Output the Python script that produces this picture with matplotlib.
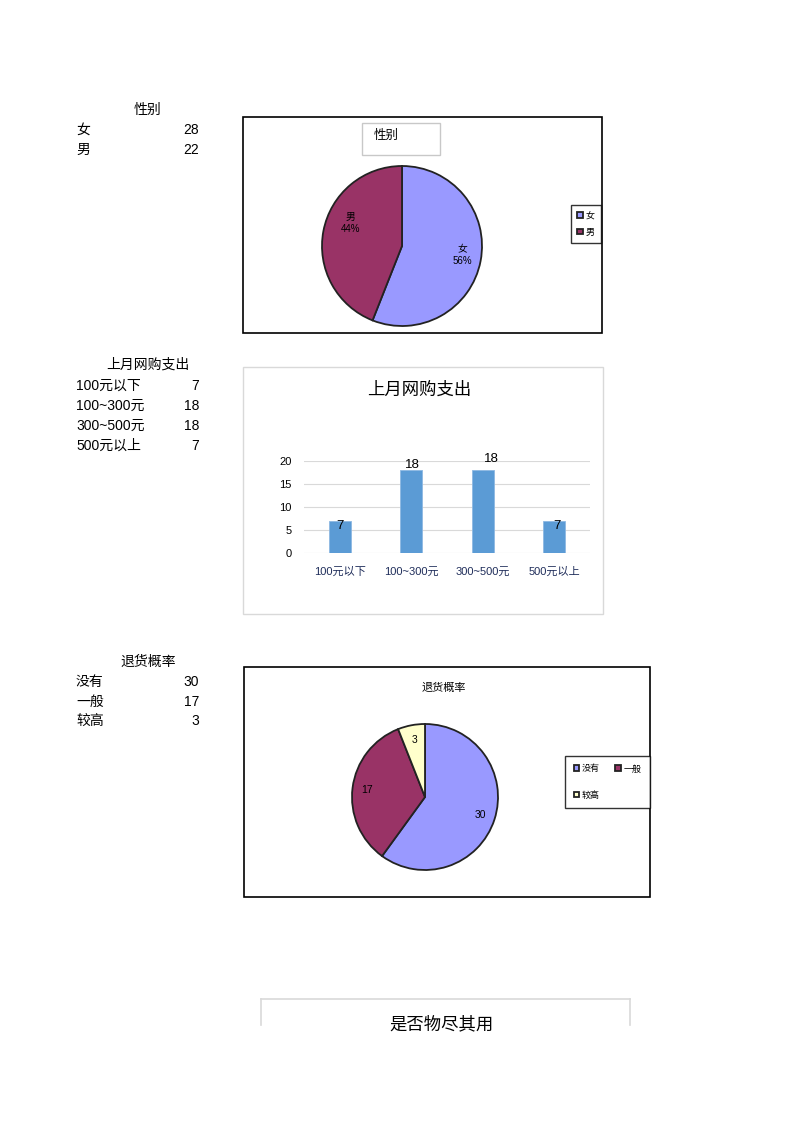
import matplotlib
matplotlib.use("Agg")
import matplotlib.pyplot as plt
from matplotlib.patches import Rectangle
from matplotlib.lines import Line2D

plt.rcParams['font.family'] = ['Liberation Sans', 'Noto Sans CJK SC', 'DejaVu Sans']

# data
gender_title = "性别"
gender_labels = ["女", "男"]
gender_values = [28, 22]

spend_title = "上月网购支出"
spend_labels = ["100元以下", "100~300元", "300~500元", "500元以上"]
spend_values = [7, 18, 18, 7]
spend_ticks = [0, 5, 10, 15, 20]

return_title = "退货概率"
return_labels = ["没有", "一般", "较高"]
return_values = [30, 17, 3]

last_title = "是否物尽其用"

W, H = 800, 1132
fig = plt.figure(figsize=(W / 100, H / 100), dpi=100)


def fx(x):
    return x / W


def fy(y):
    return 1 - y / H


def px_axes(x0, y0, x1, y1):
    # axes from pixel box (top-left origin)
    return fig.add_axes([fx(x0), fy(y1), (x1 - x0) / W, (y1 - y0) / H])


def box(x0, y0, x1, y1, color="black", lw=1.2):
    fig.add_artist(Rectangle((fx(x0), fy(y1)), (x1 - x0) / W, (y1 - y0) / H,
                             transform=fig.transFigure, fill=False,
                             edgecolor=color, linewidth=lw))


def table(title, labels, values, y_title, y_first, step=20):
    fig.text(fx(148), fy(y_title), title, ha="center", va="center", fontsize=10)
    for i, (lab, val) in enumerate(zip(labels, values)):
        y = fy(y_first + i * step)
        fig.text(fx(76), y, lab, ha="left", va="center", fontsize=10)
        fig.text(fx(199), y, str(val), ha="right", va="center", fontsize=10)


# ---- gender ----
table(gender_title, gender_labels, gender_values, 110, 130)
box(243, 117, 602, 333)
box(362, 123, 440, 155, color="#c8c8c8", lw=1)
fig.text(fx(386), fy(136), gender_title, ha="center", va="center", fontsize=9)

pie_colors = ["#9999FF", "#993366", "#FFFFCC"]
ax1 = px_axes(322, 166, 482, 326)
tot1 = sum(gender_values)
wedges1, _, autot1 = ax1.pie(
    gender_values, colors=pie_colors[:2], startangle=90, counterclock=False,
    autopct=lambda p: "", pctdistance=0.74,
    wedgeprops=dict(edgecolor="#222222", linewidth=1.3))
label_pos1 = [(0.75, -0.11), (-0.64, 0.29)]
for t, lab, v, pos in zip(autot1, gender_labels, gender_values, label_pos1):
    t.set_text(f"{lab}\n{round(v / tot1 * 100)}%")
    t.set_fontsize(7)
    t.set_linespacing(1.25)
    t.set_position(pos)
ax1.set_xlim(-1, 1)
ax1.set_ylim(-1, 1)
ax1.axis("off")

fig.legend(wedges1, gender_labels, loc="center", bbox_to_anchor=(fx(586), fy(224)),
           fontsize=6.5, frameon=True, fancybox=False, edgecolor="black",
           handlelength=0.6, handleheight=0.6, handletextpad=0.3,
           borderpad=0.75, labelspacing=0.8, borderaxespad=0)

# ---- spending ----
table(spend_title, spend_labels, spend_values, 365, 386)
box(243, 367, 603, 614, color="#d9d9d9", lw=1)
fig.text(fx(419), fy(390), spend_title, ha="center", va="center", fontsize=12.5)

ax2 = px_axes(304, 461, 590, 553)
xs = range(len(spend_values))
bars = ax2.bar(xs, spend_values, width=0.31, color="#5B9BD5",
               edgecolor="#8DB8E3", linewidth=0.6, zorder=3)
ax2.set_xlim(-0.5, len(spend_values) - 0.5)
ax2.set_ylim(0, 20)
ax2.set_yticks(spend_ticks)
ax2.set_xticks(list(xs))
ax2.set_xticklabels(spend_labels, fontsize=8, color="#1F2D5A")
ax2.tick_params(axis="y", labelsize=8, length=0, pad=9)
ax2.tick_params(axis="x", length=0, pad=10)
ax2.grid(axis="y", color="#d9d9d9", linewidth=0.8, zorder=0)
for s in ax2.spines.values():
    s.set_visible(False)
label_offsets = [(0, -4), (1, 4), (6, 8), (2, -4)]
for b, v, (dx, dy) in zip(bars, spend_values, label_offsets):
    ax2.annotate(str(v), (b.get_x() + b.get_width() / 2, v), xytext=(dx, dy),
                 textcoords="offset points", ha="center", va="center",
                 fontsize=9.5, zorder=4)

# ---- returns ----
table(return_title, return_labels, return_values, 662, 682, step=19.5)
box(244, 667, 650, 897)
fig.text(fx(444), fy(688), return_title, ha="center", va="center", fontsize=8)

ax3 = px_axes(352, 724, 498, 870)
tot3 = sum(return_values)
wedges3, _, autot3 = ax3.pie(
    return_values, colors=pie_colors, startangle=90, counterclock=False,
    autopct=lambda p: f"{round(p * tot3 / 100)}", pctdistance=0.8,
    wedgeprops=dict(edgecolor="#222222", linewidth=1.3))
for t in autot3:
    t.set_fontsize(7.5)
ax3.set_xlim(-1, 1)
ax3.set_ylim(-1, 1)
ax3.axis("off")

order = [0, 2, 1]
fig.legend([wedges3[i] for i in order], [return_labels[i] for i in order],
           ncol=2, loc="center", bbox_to_anchor=(fx(607.5), fy(782)),
           fontsize=6.5, frameon=True, fancybox=False, edgecolor="black",
           handlelength=0.6, handleheight=0.6, handletextpad=0.3,
           columnspacing=1.7, borderpad=0.95, labelspacing=1.9, borderaxespad=0)

# ---- last chart (cut off) ----
gray = "#d9d9d9"
fig.add_artist(Line2D([fx(261), fx(630)], [fy(999), fy(999)],
                      transform=fig.transFigure, color=gray, linewidth=1.2))
for x in (261, 630):
    fig.add_artist(Line2D([fx(x), fx(x)], [fy(999), fy(1025)],
                          transform=fig.transFigure, color=gray, linewidth=1.2))
fig.text(fx(442), fy(1024), last_title, ha="center", va="center", fontsize=12.5)

fig.savefig("out.png", dpi=100, facecolor="white")
